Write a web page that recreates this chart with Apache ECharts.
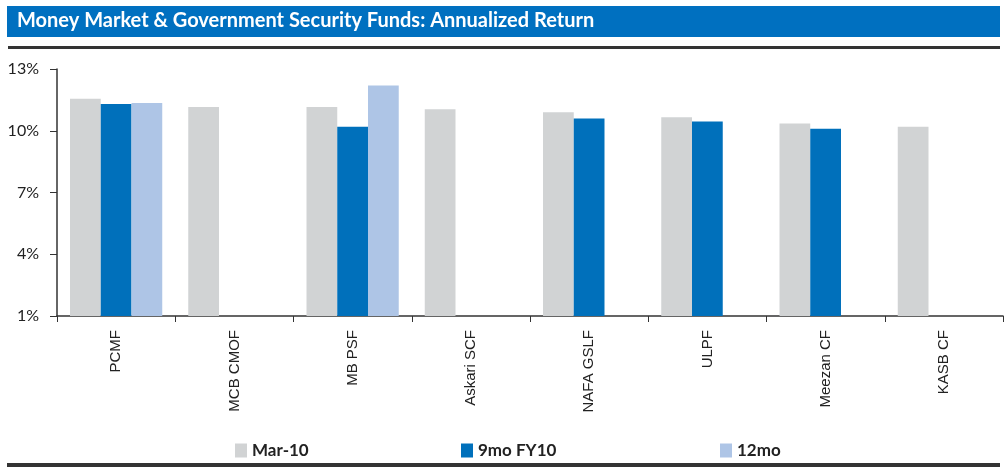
<!DOCTYPE html>
<html>
<head>
<meta charset="utf-8">
<script src="https://cdn.jsdelivr.net/npm/echarts@6/dist/echarts.min.js"></script>
<style>
  html, body { margin: 0; padding: 0; background: #fff; }
  #chart { width: 1005px; height: 468px; }
</style>
</head>
<body>
<div id="chart"></div>
<script>
// fund names along the x axis
var funds = ['PCMF', 'MCB CMOF', 'MB PSF', 'Askari SCF', 'NAFA GSLF', 'ULPF', 'Meezan CF', 'KASB CF'];
// annualized returns (%)
var mar10 = [11.55, 11.15, 11.15, 11.05, 10.9, 10.65, 10.35, 10.2];
var fy10_9mo = [11.3, null, 10.2, null, 10.6, 10.45, 10.1, null];
var mo12 = [11.35, null, 12.2, null, null, null, null, null];
var yTicks = [1, 4, 7, 10, 13];

var chart = echarts.init(document.getElementById('chart'));

var legendText = { fontFamily: 'Lato', fontWeight: 'bold', fontSize: 17, color: '#222' };

chart.setOption({
  backgroundColor: '#fff',
  animation: false,
  graphic: [
    // title banner
    { type: 'rect', shape: { x: 7, y: 6, width: 993, height: 31 }, style: { fill: '#0070C0' } },
    { type: 'text', left: 17, top: 11, style: { text: 'Money Market & Government Security Funds: Annualized Return', fill: '#fff', font: 'bold 20px Lato' } },
    // rules above and below
    { type: 'rect', shape: { x: 8, y: 46, width: 992, height: 3 }, style: { fill: '#333' } },
    { type: 'rect', shape: { x: 7, y: 463, width: 993, height: 4 }, style: { fill: '#333' } }
  ],
  legend: [
    { data: ['Mar-10'], left: 230, top: 437, itemWidth: 12, itemHeight: 14, textStyle: legendText, icon: 'rect' },
    { data: ['9mo FY10'], left: 456, top: 437, itemWidth: 12, itemHeight: 14, textStyle: legendText, icon: 'rect' },
    { data: ['12mo'], left: 715, top: 437, itemWidth: 12, itemHeight: 14, textStyle: legendText, icon: 'rect' }
  ],
  grid: { left: 57, right: 2, top: 69, bottom: 152 },
  xAxis: {
    type: 'category',
    data: funds,
    axisLine: { lineStyle: { color: '#333', width: 1.5 } },
    axisTick: { show: true, length: 6, lineStyle: { color: '#333' } },
    axisLabel: { rotate: 90, margin: 14, fontFamily: 'Liberation Sans', fontSize: 15, color: '#222' }
  },
  yAxis: {
    type: 'value',
    min: yTicks[0],
    max: yTicks[yTicks.length - 1],
    interval: 3,
    axisLine: { show: true, lineStyle: { color: '#333', width: 1.5 } },
    axisTick: { show: true, length: 7, lineStyle: { color: '#333' } },
    axisLabel: { formatter: '{value}%', margin: 18, fontFamily: 'Lato', fontSize: 16, color: '#222' },
    splitLine: { show: false }
  },
  series: [
    { name: 'Mar-10', type: 'bar', data: mar10, barGap: '0%', barCategoryGap: '22%', itemStyle: { color: '#D1D3D4' } },
    { name: '9mo FY10', type: 'bar', data: fy10_9mo, itemStyle: { color: '#0070BB' } },
    { name: '12mo', type: 'bar', data: mo12, itemStyle: { color: '#AEC5E6' } }
  ]
});
</script>
</body>
</html>
